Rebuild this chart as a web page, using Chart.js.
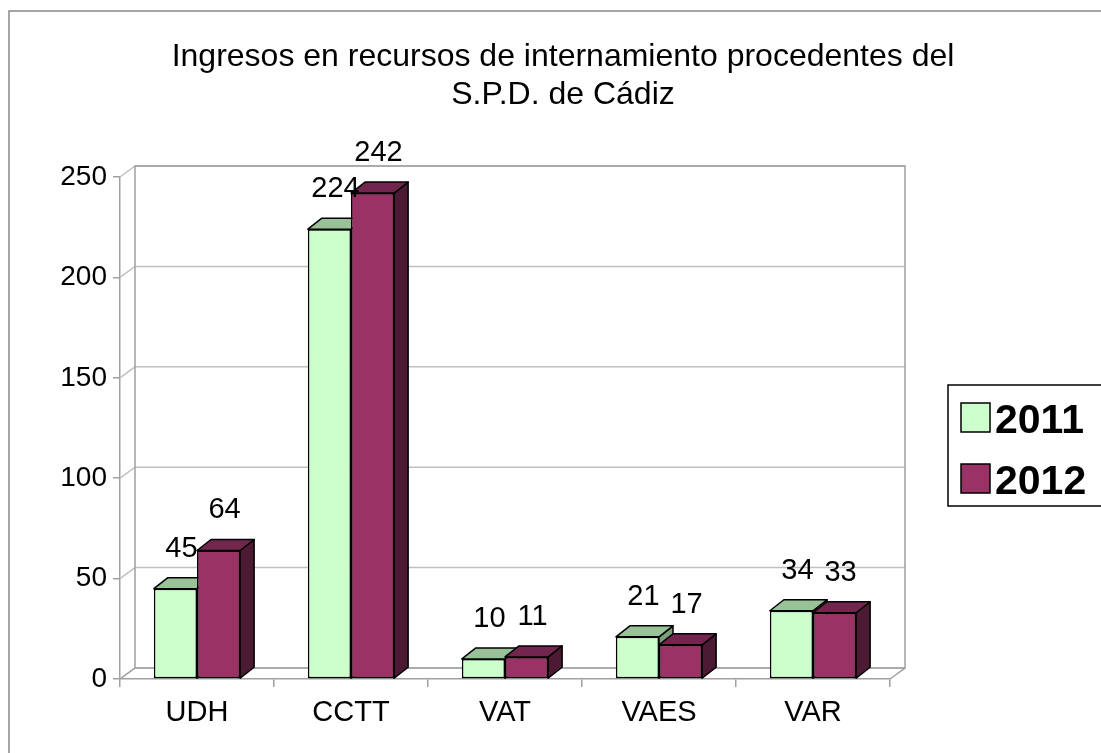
<!DOCTYPE html>
<html>
<head>
<meta charset="utf-8">
<script src="https://cdn.jsdelivr.net/npm/chart.js@4"></script>
<style>
    html, body { margin: 0; padding: 0; background: #fff; }
    canvas { display: block; }
</style>
</head>
<body>
<canvas id="barChart" width="1101" height="753"></canvas>
<script>
// Chart data
const categories = ['UDH', 'CCTT', 'VAT', 'VAES', 'VAR'];
const seriesNames = ['2011', '2012'];
const values2011 = [45, 224, 10, 21, 34];
const values2012 = [64, 242, 11, 17, 33];
const titleLines = ['Ingresos en recursos de internamiento procedentes del', 'S.P.D. de Cádiz'];

// Face colours: front, top, side
const faceColors = [
    ['#ccffcc', '#99c299', '#7a9e7a'],
    ['#993366', '#73264d', '#4c1a33']
];

const FONT = '"Liberation Sans", Arial, sans-serif';
const WALL_DX = 15, WALL_DY = 11;
const BAR_DX = 14, BAR_DY = 11;

// Back walls and gridlines of the 3D box
const wallsPlugin = {
    id: 'walls',
    beforeDatasetsDraw(chart) {
        const ctx = chart.ctx;
        const { left, right, top, bottom } = chart.chartArea;
        const y = chart.scales.y;
        ctx.save();
        ctx.lineWidth = 1.5;
        ctx.strokeStyle = '#c0c0c0';
        y.ticks.forEach(t => {
            const py = y.getPixelForValue(t.value);
            ctx.beginPath();
            ctx.moveTo(left, py);
            ctx.lineTo(left + WALL_DX, py - WALL_DY);
            ctx.lineTo(right + WALL_DX, py - WALL_DY);
            ctx.stroke();
        });
        ctx.strokeStyle = '#a0a0a0';
        ctx.beginPath();
        ctx.moveTo(left + WALL_DX, bottom - WALL_DY);
        ctx.lineTo(left + WALL_DX, top - WALL_DY);
        ctx.lineTo(right + WALL_DX, top - WALL_DY);
        ctx.lineTo(right + WALL_DX, bottom - WALL_DY);
        ctx.lineTo(right, bottom);
        ctx.moveTo(left, bottom);
        ctx.lineTo(left + WALL_DX, bottom - WALL_DY);
        ctx.lineTo(right + WALL_DX, bottom - WALL_DY);
        ctx.stroke();
        ctx.restore();
    }
};

// Side and top faces of each bar, front redrawn on top, then value labels
const bars3dPlugin = {
    id: 'bars3d',
    afterDatasetsDraw(chart) {
        const ctx = chart.ctx;
        ctx.save();
        ctx.lineWidth = 1.5;
        ctx.strokeStyle = '#000';
        ctx.lineJoin = 'round';
        chart.data.datasets.forEach((ds, i) => {
            const colors = faceColors[i];
            chart.getDatasetMeta(i).data.forEach(bar => {
                const x0 = bar.x - bar.width / 2;
                const x1 = bar.x + bar.width / 2;
                const yt = bar.y, yb = bar.base;
                // side
                ctx.beginPath();
                ctx.moveTo(x1, yt);
                ctx.lineTo(x1 + BAR_DX, yt - BAR_DY);
                ctx.lineTo(x1 + BAR_DX, yb - BAR_DY);
                ctx.lineTo(x1, yb);
                ctx.closePath();
                ctx.fillStyle = colors[2];
                ctx.fill();
                ctx.stroke();
                // top
                ctx.beginPath();
                ctx.moveTo(x0, yt);
                ctx.lineTo(x0 + BAR_DX, yt - BAR_DY);
                ctx.lineTo(x1 + BAR_DX, yt - BAR_DY);
                ctx.lineTo(x1, yt);
                ctx.closePath();
                ctx.fillStyle = colors[1];
                ctx.fill();
                ctx.stroke();
                // front
                bar.draw(ctx);
            });
        });

        ctx.font = `29px ${FONT}`;
        ctx.fillStyle = '#000';
        ctx.textAlign = 'center';
        ctx.textBaseline = 'middle';
        chart.data.datasets.forEach((ds, i) => {
            chart.getDatasetMeta(i).data.forEach((bar, j) => {
                ctx.fillText(String(ds.data[j]), bar.x + 6, bar.y - BAR_DY - 29);
            });
        });
        ctx.restore();
    }
};

// Title, legend and outer frame
const decorPlugin = {
    id: 'decor',
    afterDraw(chart) {
        const ctx = chart.ctx;
        ctx.save();
        ctx.strokeStyle = '#888';
        ctx.lineWidth = 1.5;
        ctx.strokeRect(9, 11, 1200, 800);

        ctx.fillStyle = '#000';
        ctx.font = `32px ${FONT}`;
        ctx.textAlign = 'center';
        ctx.textBaseline = 'alphabetic';
        titleLines.forEach((line, i) => ctx.fillText(line, 563, 66 + i * 38));

        // legend
        ctx.strokeStyle = '#000';
        ctx.lineWidth = 1.5;
        ctx.strokeRect(948, 385, 170, 121);
        ctx.font = `bold 41px ${FONT}`;
        ctx.textAlign = 'left';
        chart.data.datasets.forEach((ds, i) => {
            const sy = 403 + i * 61;
            ctx.fillStyle = ds.backgroundColor;
            ctx.fillRect(961, sy, 29, 29);
            ctx.strokeRect(961, sy, 29, 29);
            ctx.fillStyle = '#000';
            ctx.fillText(ds.label, 995, sy + 30);
        });
        ctx.restore();
    }
};

function makeDataset(i, values) {
    return {
        label: seriesNames[i],
        data: values,
        backgroundColor: faceColors[i][0],
        borderColor: '#000',
        borderWidth: 1.5,
        borderSkipped: false,
        categoryPercentage: 0.56,
        barPercentage: 1
    };
}

const ctx = document.getElementById('barChart').getContext('2d');
new Chart(ctx, {
    type: 'bar',
    data: {
        labels: categories,
        datasets: [makeDataset(0, values2011), makeDataset(1, values2012)]
    },
    options: {
        responsive: false,
        animation: false,
        layout: { padding: { left: 10, right: 211, top: 177, bottom: 0 } },
        plugins: {
            legend: { display: false },
            title: { display: false },
            tooltip: { enabled: false }
        },
        scales: {
            x: {
                afterFit: s => { s.height = 74; },
                grid: { drawOnChartArea: false, tickLength: 8, tickColor: '#a0a0a0', lineWidth: 1.5 },
                border: { color: '#a0a0a0', width: 1.5 },
                ticks: { color: '#000', font: { family: FONT, size: 29 }, padding: 9 }
            },
            y: {
                min: 0,
                max: 250,
                afterFit: s => { s.width = 110; },
                grid: { drawOnChartArea: false, tickLength: 7, tickColor: '#a0a0a0', lineWidth: 1.5 },
                border: { color: '#a0a0a0', width: 1.5 },
                ticks: { stepSize: 50, color: '#000', font: { family: FONT, size: 28 }, padding: 6 }
            }
        }
    },
    plugins: [wallsPlugin, bars3dPlugin, decorPlugin]
});
</script>
</body>
</html>
